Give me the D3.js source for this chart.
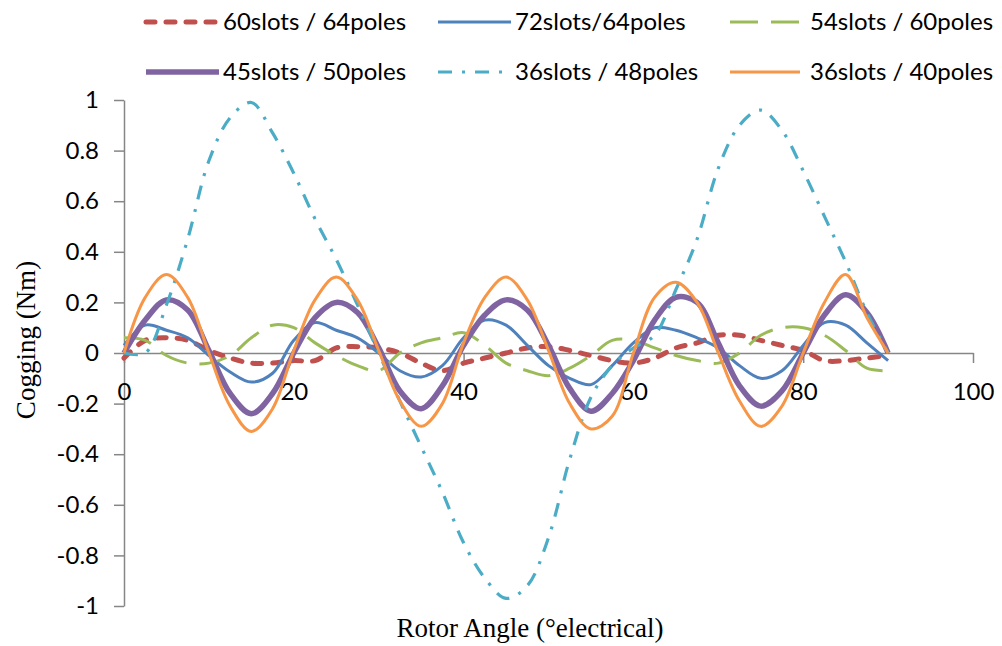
<!DOCTYPE html>
<html>
<head>
<meta charset="utf-8">
<script src="https://cdn.jsdelivr.net/npm/d3@7"></script>
<style>
  body { margin: 0; background: #fff; }
  .tick text { font-family: Lato, "Noto Sans", sans-serif; font-size: 24px; fill: #000; }
  .axis path, .axis line { stroke: #868686; stroke-width: 1.5; }
  .legend text { font-family: Lato, "Noto Sans", sans-serif; font-size: 24px; fill: #000; }
  .title { font-family: "Liberation Serif", "DejaVu Serif", serif; font-size: 27px; fill: #000; }
</style>
</head>
<body>
<svg id="chart" width="1002" height="646"></svg>
<script>
// rotor angle (°electrical), common to all series
const angles = [0, 2.5, 5, 7.5, 10, 12.5, 15, 17.5, 20, 22.5, 25, 27.5, 30, 32.5, 35, 37.5,
  40, 42.5, 45, 47.5, 50, 52.5, 55, 57.5, 60, 62.5, 65, 67.5, 70, 72.5, 75, 77.5, 80, 82.5, 85, 87.5, 90];

// cogging torque (Nm)
const s60_64 = [-0.02, 0.05, 0.06, 0.05, 0.01, -0.02, -0.04, -0.04, -0.03, -0.03, 0.02, 0.025, 0.02, 0.0, -0.04, -0.07,
  -0.04, -0.02, 0.0, 0.02, 0.025, 0.01, -0.01, -0.03, -0.04, -0.02, 0.02, 0.04, 0.07, 0.07, 0.05, 0.03, 0.01, -0.03, -0.03, -0.02, -0.01];
const s72_64 = [0.03, 0.11, 0.09, 0.06, -0.01, -0.075, -0.115, -0.08, 0.05, 0.12, 0.09, 0.06, 0.0, -0.07, -0.095, -0.05,
  0.06, 0.13, 0.11, 0.03, -0.05, -0.1, -0.125, -0.05, 0.04, 0.1, 0.09, 0.06, 0.02, -0.05, -0.1, -0.07, 0.03, 0.12, 0.11, 0.04, -0.03];
const s54_60 = [0.06, 0.05, -0.01, -0.04, -0.04, -0.01, 0.06, 0.11, 0.1, 0.04, -0.01, -0.05, -0.07, 0.0, 0.04, 0.06,
  0.08, 0.03, -0.04, -0.07, -0.09, -0.06, -0.01, 0.05, 0.05, 0.02, -0.01, -0.03, -0.04, 0.0, 0.07, 0.1, 0.1, 0.07, 0.01, -0.06, -0.07];
const s45_50 = [0.0, 0.13, 0.21, 0.17, 0.01, -0.16, -0.24, -0.16, 0.0, 0.14, 0.2, 0.16, 0.02, -0.15, -0.22, -0.13,
  0.03, 0.15, 0.21, 0.17, 0.03, -0.14, -0.23, -0.16, -0.03, 0.13, 0.22, 0.2, 0.04, -0.13, -0.21, -0.15, 0.0, 0.15, 0.23, 0.16, 0.0];
const s36_48 = [0.0, 0.0, 0.19, 0.45, 0.76, 0.93, 0.99, 0.87, 0.71, 0.53, 0.37, 0.19, 0.0, -0.19, -0.37, -0.55,
  -0.75, -0.89, -0.97, -0.92, -0.73, -0.42, -0.175, -0.05, 0.02, 0.07, 0.25, 0.45, 0.73, 0.9, 0.96, 0.88, 0.72, 0.54, 0.36, 0.16, 0.0];
const s36_40 = [0.0, 0.22, 0.31, 0.22, 0.0, -0.21, -0.31, -0.22, 0.01, 0.21, 0.3, 0.21, 0.01, -0.19, -0.29, -0.2,
  0.04, 0.22, 0.3, 0.21, 0.01, -0.2, -0.3, -0.25, 0.0, 0.22, 0.28, 0.2, 0.0, -0.19, -0.29, -0.21, 0.0, 0.2, 0.31, 0.14, 0.0];

const seriesNames = ["60slots / 64poles", "72slots/64poles", "54slots / 60poles",
  "45slots / 50poles", "36slots / 48poles", "36slots / 40poles"];
const seriesValues = [s60_64, s72_64, s54_60, s45_50, s36_48, s36_40];

const xTicks = [0, 20, 40, 60, 80, 100];
const yTicks = [-1, -0.8, -0.6, -0.4, -0.2, 0, 0.2, 0.4, 0.6, 0.8, 1];

// look of each series (Excel style)
const styles = [
  { color: "#C0504D", width: 5, dash: "9,11", cap: "round" },
  { color: "#4F81BD", width: 3, dash: null, cap: "butt" },
  { color: "#9BBB59", width: 3, dash: "28,13", cap: "butt" },
  { color: "#8064A2", width: 5.5, dash: null, cap: "butt" },
  { color: "#4BACC6", width: 3.2, dash: "14,10,3,10", cap: "butt" },
  { color: "#F79646", width: 3, dash: null, cap: "butt" }
];

const svg = d3.select("#chart");
const x = d3.scaleLinear().domain([0, 100]).range([124, 973]);
const y = d3.scaleLinear().domain([-1, 1]).range([606, 100]);

// axes
svg.append("g")
  .attr("class", "axis")
  .attr("transform", `translate(${x(0)},0)`)
  .call(d3.axisLeft(y).tickValues(yTicks).tickSize(10).tickSizeOuter(0).tickPadding(15)
    .tickFormat(d => String(d)));

svg.append("g")
  .attr("class", "axis")
  .attr("transform", `translate(0,${y(0)})`)
  .call(d3.axisBottom(x).tickValues(xTicks).tickSize(10).tickSizeOuter(0).tickPadding(20)
    .tickFormat(d => String(d)));

svg.selectAll(".axis .domain").attr("stroke", "#868686");

// lines
const line = d3.line()
  .x((d, i) => x(angles[i]))
  .y(d => y(d))
  .curve(d3.curveCatmullRom);

svg.append("g").selectAll("path")
  .data(seriesValues)
  .enter().append("path")
  .attr("d", d => line(d))
  .attr("fill", "none")
  .attr("stroke", (d, i) => styles[i].color)
  .attr("stroke-width", (d, i) => styles[i].width)
  .attr("stroke-dasharray", (d, i) => styles[i].dash)
  .attr("stroke-linecap", (d, i) => styles[i].cap)
  .attr("stroke-linejoin", "round");

// legend: 3 columns, 2 rows
const legX = [146, 438, 730];
const legY = [22, 72];
const leg = svg.append("g").attr("class", "legend")
  .selectAll("g")
  .data(seriesNames)
  .enter().append("g")
  .attr("transform", (d, i) => `translate(${legX[i % 3]},${legY[Math.floor(i / 3)]})`);

leg.append("line")
  .attr("x1", 0).attr("x2", (d, i) => i % 3 === 2 ? 70 : 73)
  .attr("y1", 0).attr("y2", 0)
  .attr("stroke", (d, i) => styles[i].color)
  .attr("stroke-width", (d, i) => styles[i].width)
  .attr("stroke-dasharray", (d, i) => styles[i].dash)
  .attr("stroke-linecap", (d, i) => styles[i].cap);

leg.append("text")
  .attr("x", (d, i) => i % 3 === 2 ? 80 : 77)
  .attr("dy", "0.35em")
  .text(d => d);

// axis titles
svg.append("text")
  .attr("class", "title")
  .attr("x", 530).attr("y", 628)
  .attr("dy", "0.35em")
  .attr("text-anchor", "middle")
  .text("Rotor Angle (°electrical)");

svg.append("text")
  .attr("class", "title")
  .attr("transform", "translate(26,340) rotate(-90)")
  .attr("dy", "0.35em")
  .attr("text-anchor", "middle")
  .text("Cogging (Nm)");
</script>
</body>
</html>
